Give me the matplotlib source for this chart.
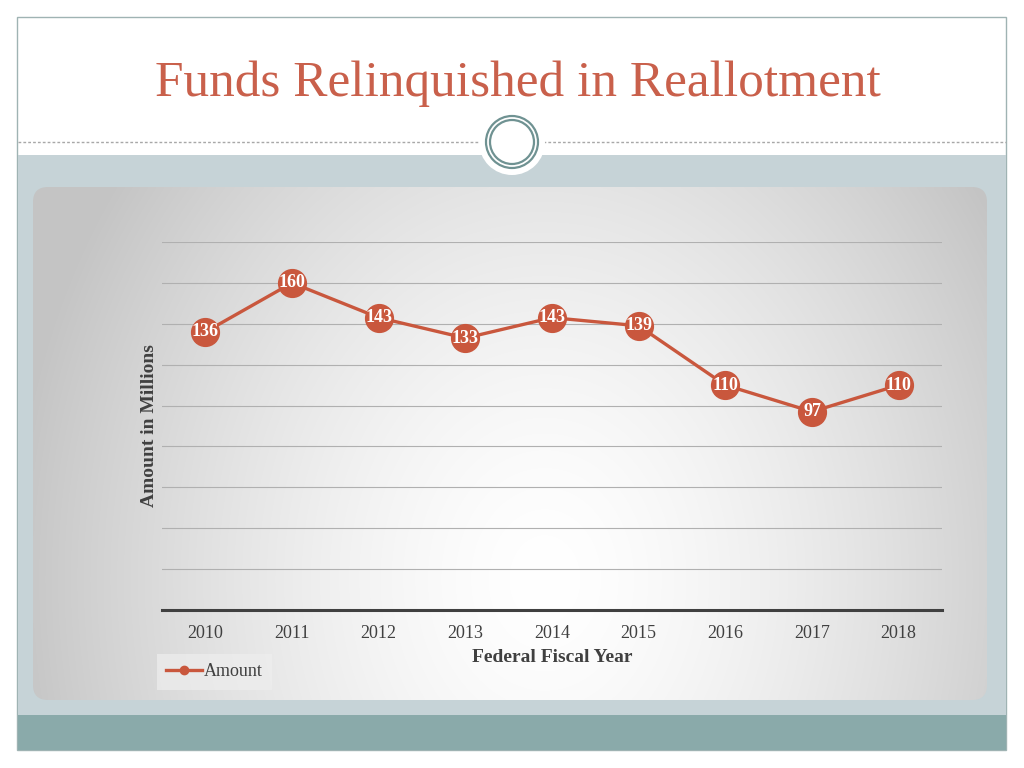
import numpy as np
import matplotlib
matplotlib.use("Agg")
import matplotlib.pyplot as plt
from matplotlib.patches import Rectangle, FancyBboxPatch, Circle
from matplotlib.lines import Line2D

# data
years = ["2010", "2011", "2012", "2013", "2014", "2015", "2016", "2017", "2018"]
amounts = [136, 160, 143, 133, 143, 139, 110, 97, 110]

title_color = "#C9604B"
line_color = "#C9573D"
text_color = "#404040"
serif = ["Liberation Serif", "DejaVu Serif"]

fig = plt.figure(figsize=(10.24, 7.68), dpi=100)
fig.patch.set_facecolor("white")

# slide background, drawn in pixel coordinates
bg = fig.add_axes([0, 0, 1, 1], zorder=0)
bg.set_xlim(0, 1024)
bg.set_ylim(768, 0)
bg.axis("off")

bg.add_patch(Rectangle((17, 17), 989, 733, facecolor="white", edgecolor="#9FB3B3", lw=1.0))
bg.add_patch(Rectangle((18, 155), 988, 560, facecolor="#C6D3D7", edgecolor="none"))
bg.add_patch(Rectangle((18, 715), 988, 35, facecolor="#8AAAAA", edgecolor="none"))
bg.plot([18, 1006], [142, 142], color="#A8A8A8", lw=1.0, ls=(0, (2, 1.5)))

# ornament
bg.add_patch(Circle((512, 142), 33, facecolor="white", edgecolor="none", zorder=3))
bg.add_patch(Circle((512, 142), 26, facecolor="white", edgecolor="#6F9292", lw=1.6, zorder=4))
bg.add_patch(Circle((512, 142), 22, facecolor="white", edgecolor="#6F9292", lw=1.6, zorder=4))

# chart area with radial gradient
x0, y0, x1, y1 = 33, 187, 987, 700
box = FancyBboxPatch((x0, y0), x1 - x0, y1 - y0, boxstyle="round,pad=0,rounding_size=15",
                     facecolor="none", edgecolor="none")
bg.add_patch(box)
xs = np.linspace(x0, x1, 400)
ys = np.linspace(y0, y1, 240)
X, Y = np.meshgrid(xs, ys)
t = np.sqrt(((X - 545) / 520) ** 2 + ((Y - 580) / 650) ** 2)
v = np.clip(1 - 0.22 * t ** 1.5, 0.77, 1.0)
img = np.dstack([v, v, v])
im = bg.imshow(img, extent=[x0, x1, y1, y0], aspect="auto", zorder=1, interpolation="bilinear")
im.set_clip_path(box)

# title
fig.text(0.506, 1 - 84 / 768, "Funds Relinquished in Reallotment", ha="center", va="center",
         fontsize=37, color=title_color, family=serif)

# chart
ax = fig.add_axes([162 / 1024, 1 - 610 / 768, 780 / 1024, 368 / 768], zorder=2)
ax.patch.set_alpha(0)
xpos = np.arange(len(years))
ax.plot(xpos, amounts, color=line_color, lw=2.4, marker="o", markersize=20,
        markerfacecolor=line_color, markeredgecolor=line_color, clip_on=False, zorder=3)
for xp, val in zip(xpos, amounts):
    ax.text(xp, val, str(val), ha="center", va="center", color="white", fontsize=13,
            fontweight="bold", family=serif, zorder=4)

ax.set_xlim(-0.5, len(years) - 0.5)
ax.set_ylim(0, 180)
ax.set_yticks(np.arange(20, 181, 20))
ax.set_yticklabels([])
ax.yaxis.grid(True, color="#B0B0B0", lw=0.8)
ax.set_axisbelow(True)
ax.tick_params(axis="y", length=0)
ax.set_xticks(xpos)
ax.set_xticklabels(years, family=serif, fontsize=13, color=text_color)
ax.tick_params(axis="x", length=0, pad=11)
for s in ["top", "right", "left"]:
    ax.spines[s].set_visible(False)
ax.spines["bottom"].set_color("#404040")
ax.spines["bottom"].set_linewidth(2.2)

ax.set_xlabel("Federal Fiscal Year", family=serif, fontsize=14, fontweight="bold",
              color=text_color, labelpad=5)
fig.text(150 / 1024, 1 - 426 / 768, "Amount in Millions", rotation=90, ha="center", va="center",
         family=serif, fontsize=14, fontweight="bold", color=text_color)

handle = Line2D([], [], color=line_color, lw=2.4, marker="o", markersize=6)
leg = fig.legend([handle], ["Amount"], loc="center left", bbox_to_anchor=(148 / 1024, 1 - 672 / 768),
                 frameon=True, facecolor="#EEEEEE", edgecolor="none", framealpha=0.7,
                 prop={"family": serif, "size": 13}, handlelength=2.0, handletextpad=0.1,
                 borderpad=0.5, fancybox=False)
for txt in leg.get_texts():
    txt.set_color(text_color)

plt.savefig("out.png", dpi=100)
